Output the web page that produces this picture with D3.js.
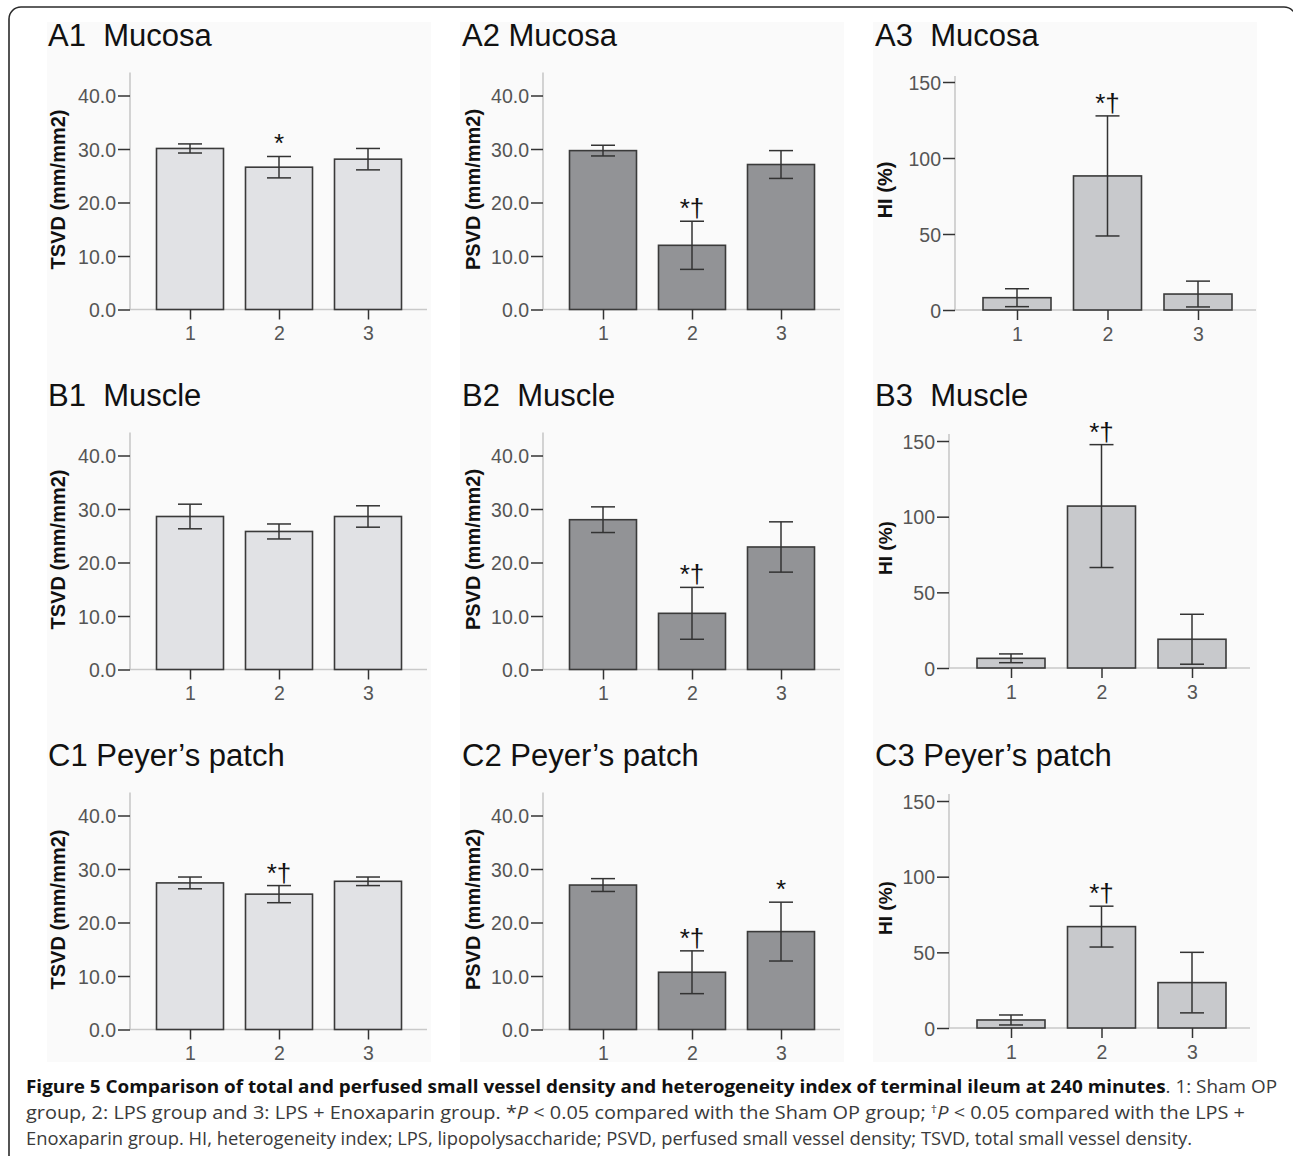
<!DOCTYPE html>
<html>
<head>
<meta charset="utf-8">
<script src="https://cdn.jsdelivr.net/npm/d3@7"></script>
<style>
  body { margin: 0; background: #fff; }
  svg { display: block; }
</style>
</head>
<body>
<div id="fig"></div>
<script>
// values (mean and error per group)
var groups = ["1", "2", "3"];

var panelTitles = [
  ["A1  Mucosa", "A2 Mucosa", "A3  Mucosa"],
  ["B1  Muscle", "B2  Muscle", "B3  Muscle"],
  ["C1 Peyer\u2019s patch", "C2 Peyer\u2019s patch", "C3 Peyer\u2019s patch"]
];

// rows: mucosa, muscle, Peyer's patch
var tsvdMean = [[30.1, 26.6, 28.1], [28.6, 25.8, 28.6], [27.4, 25.3, 27.7]];
var tsvdErr  = [[0.85, 2.0, 2.0],   [2.3, 1.4, 2.0],    [1.1, 1.6, 0.8]];
var psvdMean = [[29.7, 12.0, 27.1], [28.0, 10.5, 22.9], [27.0, 10.7, 18.3]];
var psvdErr  = [[1.0, 4.5, 2.6],    [2.4, 4.85, 4.7],   [1.2, 4.0, 5.5]];
var hiMean   = [[8.1, 88.2, 10.5],  [6.4, 107, 19.0],   [5.3, 67, 30]];
var hiErr    = [[5.9, 39.5, 8.5],   [2.9, 40.6, 16.5],  [3.3, 13.5, 20]];

var sigLabels = [
  [["", "*", ""], ["", "*\u2020", ""], ["", "*\u2020", ""]],
  [["", "", ""],  ["", "*\u2020", ""], ["", "*\u2020", ""]],
  [["", "*\u2020", ""], ["", "*\u2020", "*"], ["", "*\u2020", ""]]
];

var yLabels = ["TSVD (mm/mm2)", "PSVD (mm/mm2)", "HI (%)"];
var yTicks = [[0, 10, 20, 30, 40], [0, 10, 20, 30, 40], [0, 50, 100, 150]];
var yMax = [40, 40, 150];

var W = 1293, H = 1156;
var svg = d3.select("#fig").append("svg")
    .attr("width", W)
    .attr("height", H);

// outer frame (rounded, runs off right and bottom)
svg.append("rect")
    .attr("x", 9).attr("y", 7)
    .attr("width", 1287).attr("height", 1220)
    .attr("rx", 12)
    .attr("fill", "#fff")
    .attr("stroke", "#2b2b2b")
    .attr("stroke-width", 1.6);

// light panel backgrounds
var bgX = [47, 460, 873];
bgX.forEach(function (x) {
    svg.append("rect")
        .attr("x", x).attr("y", 22)
        .attr("width", 384).attr("height", 1040)
        .attr("fill", "#fafafa");
});

// panel layout
var colLayout = [
    {axisX: [130, 130, 130], off: 60, step: 89, barW: 67, len: 297, top: 237,
     fill: "#e1e2e5", titleX: 48, labX: 65},
    {axisX: [543, 543, 543], off: 60, step: 89, barW: 67, len: 297, top: 237,
     fill: "#929396", titleX: 462, labX: 480},
    {axisX: [955, 949, 949], off: 62, step: 90.5, barW: 68, len: 301, top: 234,
     fill: "#c8c9cc", titleX: 875, labX: 892}
];
var rowY0 = [[309.5, 669.5, 1029.5], [309.5, 669.5, 1029.5], [310, 668, 1028]];
var rowH = [[214, 214, 214], [214, 214, 214], [228, 227, 227]];
var titleY = [46, 406, 766];

var means = [tsvdMean, psvdMean, hiMean];
var errs = [tsvdErr, psvdErr, hiErr];

for (var r = 0; r < 3; r++) {
    for (var c = 0; c < 3; c++) {
        drawPanel(r, c);
    }
}

function drawPanel(r, c) {
    var L = colLayout[c];
    var ax = L.axisX[r];
    var y0 = rowY0[c][r];
    var g = svg.append("g");

    var y = d3.scaleLinear()
        .domain([0, yMax[c]])
        .range([y0, y0 - rowH[c][r]]);

    var x = d3.scalePoint()
        .domain(groups)
        .range([ax + L.off, ax + L.off + 2 * L.step]);

    var m = means[c][r], e = errs[c][r], s = sigLabels[r][c];

    // title
    g.append("text")
        .attr("x", L.titleX).attr("y", titleY[r])
        .attr("font-family", "Liberation Sans, Arial, sans-serif")
        .attr("font-size", 31)
        .attr("fill", "#111")
        .style("white-space", "pre")
        .text(panelTitles[r][c]);

    // light axis lines
    g.append("line")
        .attr("x1", ax).attr("x2", ax)
        .attr("y1", y0).attr("y2", y0 - L.top)
        .attr("stroke", "#c9c9c9").attr("stroke-width", 1.6);
    g.append("line")
        .attr("x1", ax).attr("x2", ax + L.len)
        .attr("y1", y0).attr("y2", y0)
        .attr("stroke", "#c9c9c9").attr("stroke-width", 1.6);

    // bars
    g.selectAll(".bar")
        .data(groups)
        .enter().append("rect")
        .attr("x", function (d) { return x(d) - L.barW / 2; })
        .attr("y", function (d, i) { return y(m[i]); })
        .attr("width", L.barW)
        .attr("height", function (d, i) { return y0 - y(m[i]); })
        .attr("fill", L.fill)
        .attr("stroke", "#3a3a3a")
        .attr("stroke-width", 1.6);

    // error bars
    var eb = g.selectAll(".err")
        .data(groups)
        .enter().append("g")
        .attr("stroke", "#333")
        .attr("stroke-width", 1.5);
    eb.append("line")
        .attr("x1", function (d) { return x(d); })
        .attr("x2", function (d) { return x(d); })
        .attr("y1", function (d, i) { return y(m[i] - e[i]); })
        .attr("y2", function (d, i) { return y(m[i] + e[i]); });
    eb.append("line")
        .attr("x1", function (d) { return x(d) - 12; })
        .attr("x2", function (d) { return x(d) + 12; })
        .attr("y1", function (d, i) { return y(m[i] + e[i]); })
        .attr("y2", function (d, i) { return y(m[i] + e[i]); });
    eb.append("line")
        .attr("x1", function (d) { return x(d) - 12; })
        .attr("x2", function (d) { return x(d) + 12; })
        .attr("y1", function (d, i) { return y(m[i] - e[i]); })
        .attr("y2", function (d, i) { return y(m[i] - e[i]); });

    // significance marks
    g.selectAll(".sig")
        .data(groups)
        .enter().append("text")
        .attr("x", function (d) { return x(d); })
        .attr("y", function (d, i) { return y(m[i] + e[i]) - 4; })
        .attr("text-anchor", "middle")
        .attr("font-family", "Liberation Sans, Arial, sans-serif")
        .attr("font-size", 26)
        .attr("fill", "#111")
        .text(function (d, i) { return s[i]; });

    // y axis ticks
    var yAxis = d3.axisLeft(y)
        .tickValues(yTicks[c])
        .tickSize(12)
        .tickPadding(2)
        .tickFormat(c < 2 ? d3.format(".1f") : d3.format("d"));
    var ya = g.append("g")
        .attr("transform", "translate(" + ax + ",0)")
        .call(yAxis);
    ya.select(".domain").remove();
    ya.selectAll("line").attr("stroke", "#333").attr("stroke-width", 1.5);
    ya.selectAll("text")
        .attr("font-family", "Liberation Sans, Arial, sans-serif")
        .attr("font-size", 19.5)
        .attr("fill", "#555")
        .attr("dy", "0.36em");

    // x axis ticks
    var xAxis = d3.axisBottom(x)
        .tickSize(10)
        .tickPadding(7);
    var xa = g.append("g")
        .attr("transform", "translate(0," + y0 + ")")
        .call(xAxis);
    xa.select(".domain").remove();
    xa.selectAll("line").attr("stroke", "#333").attr("stroke-width", 1.5);
    xa.selectAll("text")
        .attr("font-family", "Liberation Sans, Arial, sans-serif")
        .attr("font-size", 19.5)
        .attr("fill", "#555");

    // y axis title
    g.append("text")
        .attr("transform", "translate(" + L.labX + "," + (y0 - 120) + ") rotate(-90)")
        .attr("text-anchor", "middle")
        .attr("font-family", "Liberation Sans, Arial, sans-serif")
        .attr("font-weight", "bold")
        .attr("font-size", (c === 2 && r > 0) ? 19 : 20)
        .attr("fill", "#111")
        .text(yLabels[c]);
}

// caption
var capFont = "Open Sans, Noto Sans, sans-serif";
var cap = svg.append("g")
    .attr("font-family", capFont)
    .attr("font-size", 17.5)
    .attr("fill", "#3a3a3a");

var l1 = cap.append("text").attr("x", 26).attr("y", 1093);
l1.append("tspan").attr("font-weight", "bold").attr("fill", "#111")
    .text("Figure 5 Comparison of total and perfused small vessel density and heterogeneity index of terminal ileum at 240 minutes");
l1.append("tspan").text(". 1: Sham OP");

var l2 = cap.append("text").attr("x", 26).attr("y", 1119);
l2.append("tspan").text("group, 2: LPS group and 3: LPS + Enoxaparin group. *");
l2.append("tspan").attr("font-style", "italic").text("P");
l2.append("tspan").text(" < 0.05 compared with the Sham OP group; ");
l2.append("tspan").attr("font-size", 11).attr("dy", -6).text("\u2020");
l2.append("tspan").attr("font-style", "italic").attr("dy", 6).text("P");
l2.append("tspan").text(" < 0.05 compared with the LPS +");

var l3 = cap.append("text").attr("x", 26).attr("y", 1145)
    .text("Enoxaparin group. HI, heterogeneity index; LPS, lipopolysaccharide; PSVD, perfused small vessel density; TSVD, total small vessel density.");

// fit caption lines to the widths in the figure
[[l1, 1251], [l2, 1219], [l3, 1166]].forEach(function (p) {
    p[0].attr("textLength", p[1]).attr("lengthAdjust", "spacingAndGlyphs");
});
</script>
</body>
</html>
